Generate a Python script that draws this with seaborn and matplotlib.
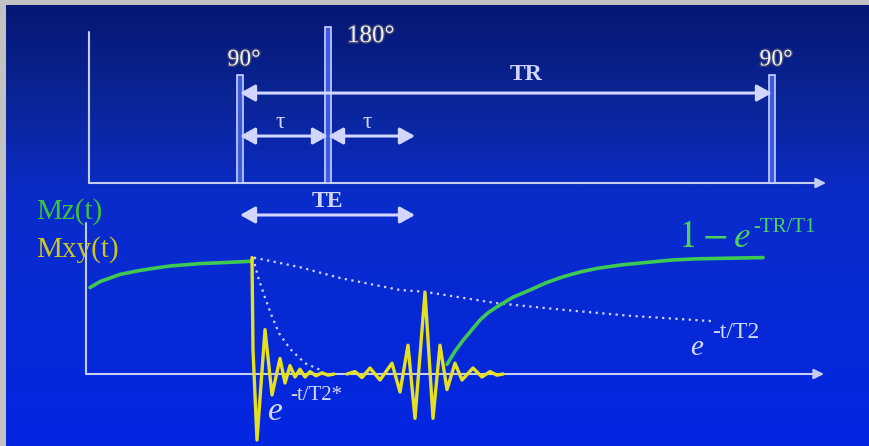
import matplotlib
matplotlib.use('Agg')
import numpy as np
import pandas as pd
import matplotlib.pyplot as plt
import matplotlib.patheffects as pe
from matplotlib.colors import LinearSegmentedColormap
import seaborn as sns

# --- timing of the spin echo sequence (arbitrary time units) ---
pulse_times = [152, 240, 684]          # 90, 180, 90
pulse_heights = [1.0, 1.44, 1.0]
pulse_labels = ['90°', '180°', '90°']
t_te_end = 327                         # 90 pulse + TE

# --- magnetization curves (t, M) ---
mz_before_t = [2, 12, 32, 50, 65, 82, 112, 140, 164]
mz_before_m = [0.72, 0.77, 0.83, 0.86, 0.88, 0.90, 0.92, 0.93, 0.94]

mz_recovery_t = [359, 367, 375, 384, 392, 400, 409, 425, 442, 458, 475, 492,
                 509, 534, 559, 584, 609, 642, 675]
mz_recovery_m = [0.08, 0.19, 0.28, 0.37, 0.45, 0.51, 0.56, 0.64, 0.70, 0.76,
                 0.81, 0.85, 0.88, 0.91, 0.93, 0.95, 0.96, 0.965, 0.97]

t2_t = [166, 212, 252, 312, 337, 409, 475, 542, 625]
t2_m = [0.97, 0.89, 0.80, 0.70, 0.685, 0.59, 0.535, 0.485, 0.44]

t2s_t = [165, 170, 176, 183, 191, 202, 217, 232]
t2s_m = [0.97, 0.81, 0.66, 0.50, 0.34, 0.21, 0.09, 0.035]

fid_t = [164, 165, 169, 177, 184, 192, 197, 202, 207, 212, 217, 222, 228, 234, 240, 246]
fid_m = [0.97, 0.20, -0.55, 0.37, -0.175, 0.13, -0.075, 0.07, -0.025, 0.04,
         -0.025, 0.02, -0.015, 0.01, -0.01, 0.0]

echo_t = [259, 267, 274, 282, 292, 304, 312, 320, 327, 337, 345, 352, 359,
          367, 374, 385, 394, 402, 409, 415]
echo_m = [0.0, 0.02, -0.03, 0.05, -0.05, 0.09, -0.15, 0.24, -0.37, 0.68,
          -0.37, 0.24, -0.13, 0.09, -0.05, 0.05, -0.025, 0.02, -0.01, 0.0]

LINE = '#c4ccf2'
ARROW = '#d2d6ff'
GREEN = '#3ec854'
YELLOW = '#e6e022'

sns.set_theme(style='white')
plt.rcParams['font.family'] = ['Liberation Serif', 'DejaVu Serif']
plt.rcParams['mathtext.fontset'] = 'stix'

W, H = 870, 446
fig = plt.figure(figsize=(W / 100, H / 100), dpi=100)

# background: blue vertical gradient + grey frame on top/left
bg = fig.add_axes([0, 0, 1, 1])
cmap = LinearSegmentedColormap.from_list(
    'slide', [(0, '#061672'), (0.22, '#0a2596'), (0.45, '#0a2cca'), (1, '#0426e2')])
bg.imshow(np.linspace(0, 1, 256)[:, None], aspect='auto', cmap=cmap,
          extent=[0, W, H, 0])
bg.add_patch(plt.Rectangle((0, 0), 6, H, color='#c2c2c2', lw=0))
bg.add_patch(plt.Rectangle((0, 0), W, 5, color='#c2c2c2', lw=0))
bg.set_xlim(0, W)
bg.set_ylim(H, 0)
bg.axis('off')

XLIM = (-88, W - 88)

# ---------------- top panel: RF pulses ----------------
top = fig.add_axes([0, (H - 190) / H, 1, 190 / H])
top.set_facecolor('none')
top.set_xlim(*XLIM)
top.set_ylim(-7 / 108, 183 / 108)
top.axis('off')

top.plot([1, 1], [0, 1.40], color=LINE, lw=1.5)
top.annotate('', xy=(738, 0), xytext=(1, 0),
             arrowprops=dict(arrowstyle='-|>,head_length=0.5,head_width=0.25',
                             color=LINE, lw=1.5, shrinkA=0, shrinkB=0))
top.bar(pulse_times, pulse_heights, width=6, color='#3c5ae0',
        edgecolor='#c8d2ff', linewidth=1.2, zorder=3)

shadow = [pe.withStroke(linewidth=2, foreground='#3a4478')]
for t, h, lab in zip(pulse_times, pulse_heights, pulse_labels):
    if lab == '180°':
        top.text(t + 19, h - 0.08, lab, color='#f2f2f2', fontsize=18,
                 ha='left', va='center', path_effects=shadow)
    else:
        top.text(t + 4, h + 0.14, lab, color='#f2f2f2', fontsize=17,
                 ha='center', va='center', path_effects=shadow)

dbl = dict(arrowstyle='<|-|>,head_length=0.9,head_width=0.5', color=ARROW,
           lw=2.2, shrinkA=0, shrinkB=0, mutation_scale=10)
top.annotate('', xy=(pulse_times[0], 0.833), xytext=(pulse_times[2], 0.833), arrowprops=dbl)
top.text((pulse_times[0] + pulse_times[2]) / 2 + 20, 1.0, 'TR', color=ARROW,
         fontsize=17, fontweight='bold', ha='center', va='center')
top.annotate('', xy=(pulse_times[0], 0.435), xytext=(pulse_times[1], 0.435), arrowprops=dbl)
top.annotate('', xy=(pulse_times[1], 0.435), xytext=(t_te_end, 0.435), arrowprops=dbl)
for a, b in [(pulse_times[0], pulse_times[1]), (pulse_times[1], t_te_end)]:
    top.text((a + b) / 2 - 4, 0.56, 'τ', color=ARROW, fontsize=17,
             ha='center', va='center')

# ---------------- bottom panel: magnetization ----------------
bot = fig.add_axes([0, 0, 1, (H - 190) / H])
bot.set_facecolor('none')
bot.set_xlim(*XLIM)
bot.set_ylim(-72 / 120, 184 / 120)
bot.axis('off')

bot.plot([-2, -2], [0, 1.26], color=LINE, lw=1.5)
bot.annotate('', xy=(736, 0), xytext=(-2, 0),
             arrowprops=dict(arrowstyle='-|>,head_length=0.5,head_width=0.25',
                             color=LINE, lw=1.5, shrinkA=0, shrinkB=0))

bot.annotate('', xy=(pulse_times[0], 1.325), xytext=(t_te_end, 1.325), arrowprops=dbl)
bot.text((pulse_times[0] + t_te_end) / 2, 1.44, 'TE', color=ARROW, fontsize=17,
         fontweight='bold', ha='center', va='center')

dots = dict(color='#d0d6f4', lw=1.6, linestyle=(0, (1, 2)), sort=False,
            estimator=None, zorder=3)
curves = pd.DataFrame({'t': t2_t, 'm': t2_m})
sns.lineplot(data=curves, x='t', y='m', ax=bot, **dots)
sns.lineplot(x=t2s_t, y=t2s_m, ax=bot, **dots)

solid = dict(sort=False, estimator=None, solid_joinstyle='round',
             solid_capstyle='round')
sns.lineplot(x=mz_before_t, y=mz_before_m, ax=bot, color=GREEN, lw=2.6,
             zorder=4, **solid)
sns.lineplot(x=fid_t, y=fid_m, ax=bot, color=YELLOW, lw=2.4, zorder=5, **solid)
sns.lineplot(x=echo_t, y=echo_m, ax=bot, color=YELLOW, lw=2.4, zorder=5, **solid)
sns.lineplot(x=mz_recovery_t, y=mz_recovery_m, ax=bot, color=GREEN, lw=2.6,
             zorder=6, **solid)

bot.text(-52, 1.35, 'Mz(t)', color='#3cc23c', fontsize=21, ha='left', va='center')
bot.text(-52, 1.04, 'Mxy(t)', color='#ccc420', fontsize=21, ha='left', va='center')

bot.text(590, 1.06, r'$1-e$', color='#4ed060', fontsize=27,
         ha='left', va='baseline')
bot.text(665, 1.185, '-TR/T1', color='#4ed060', fontsize=15,
         ha='left', va='baseline')

LBL = '#d4daf6'
bot.text(180, -0.383, 'e', color=LBL, fontsize=24, style='italic',
         ha='left', va='baseline')
bot.text(202, -0.217, '-t/T2*', color=LBL, fontsize=15, ha='left', va='baseline')
bot.text(602, 0.158, 'e', color=LBL, fontsize=21, style='italic',
         ha='left', va='baseline')
bot.text(624, 0.30, '-t/T2', color=LBL, fontsize=17, ha='left', va='baseline')

fig.savefig('out.png', dpi=100)
